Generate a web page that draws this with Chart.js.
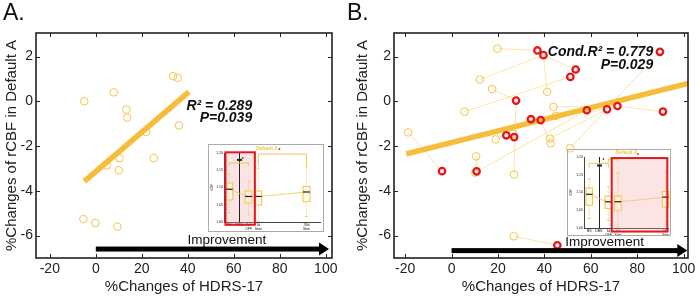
<!DOCTYPE html>
<html>
<head>
<meta charset="utf-8">
<script src="https://cdn.jsdelivr.net/npm/chart.js@4.4.1/dist/chart.umd.min.js"></script>
<style>
body { margin: 0; background: #fff; }
#wrap { position: relative; width: 700px; height: 297px; font-family: "Liberation Sans", Arial, sans-serif; }
.panel { position: absolute; top: 0; }
.tag { position: absolute; top: -1px; font-size: 23px; color: #111; }
.inset { position: absolute; }
</style>
</head>
<body>
<div id="wrap">
  <canvas id="chartA" class="panel" width="350" height="297" style="left:0"></canvas>
  <canvas id="chartB" class="panel" width="350" height="297" style="left:350px"></canvas>
  <div class="tag" style="left:3px">A.</div>
  <div class="tag" style="left:347px">B.</div>
  <canvas id="insetA" class="inset" width="116" height="88" style="left:208px;top:144px"></canvas>
  <canvas id="insetB" class="inset" width="104" height="87" style="left:567px;top:149px"></canvas>
</div>
<script>
// axis ticks
var xTickVals = [-20, 0, 20, 40, 60, 80, 100];
var yTickVals = [-6, -4, -2, 0, 2];

// panel A: single time point
var aX = [-5, 7.8, 33.6, 35.6, 13.3, 13.6, 36.2, 21.9, 10.3, 25.2, 4.8, 10, -5.4, -0.2, 9.4];
var aY = [0.0, 0.4, 1.12, 1.05, -0.37, -0.73, -1.08, -1.37, -2.54, -2.54, -2.87, -3.08, -5.26, -5.44, -5.6];
var aFitX = [-5, 40.5];
var aFitY = [-3.58, 0.42];

// panel B: red = highlighted time points, yellow = other time points
var bRedX = [37, 39.6, 89.8, 53.5, 51.2, 27.8, 34.2, 38.4, 58.3, 67, 71.5, 91.1, 23.6, 27, -4.1, 10.8, 45.6];
var bRedY = [2.27, 2.06, 2.21, 1.42, 1.09, 0.03, -0.8, -0.84, -0.4, -0.36, -0.21, -0.46, -1.52, -1.6, -3.12, -3.13, -6.43];
var bYelX = [19.8, 12.2, 17.5, 41.2, 5.6, 43.9, 45, -18.7, 19, 42.4, 42.7, 51.1, 10.6, 10.2, 26.9, 26.8, 26.5];
var bYelY = [2.35, 0.97, 0.55, 0.42, -0.46, -0.25, -0.65, -1.39, -1.7, -1.66, -1.88, -2.1, -2.46, -3.19, -3.27, -6.03, -1.45];
// subject links: [yellow index, red index] and [red, red]
var linksYR = [[0,0],[1,1],[3,1],[2,5],[14,5],[4,4],[7,14],[12,15],[13,8],[15,16],[5,10],[6,9],[9,9],[10,7],[11,2],[8,12],[16,13]];
var linksRR = [[1,3],[10,11]];
var bFitX = [-19.5, 102];
var bFitY = [-2.35, 0.8];

// inset box plot (Default A rCBF)
var insetCatX = [0, 1, 2, 3, 8];
var insetCats = ['BS', 'DBS', ['1d', 'OFF'], ['1d', 'Stim'], ['28d', 'Stim']];
var insetYTicks = [1.00, 1.05, 1.10, 1.15, 1.20];
var boxX = [0, 2, 3, 8];
var boxLo = [1.027, 1.021, 1.002, 1.016];
var boxQ1 = [1.064, 1.055, 1.049, 1.059];
var boxMed = [1.095, 1.074, 1.074, 1.087];
var boxQ3 = [1.113, 1.090, 1.090, 1.103];
var boxHi = [1.139, 1.117, 1.156, 1.160];

var YEL = '#F4C44B';
var FIT = '#F6BD3A';
var RED = '#E5161D';

Chart.defaults.font.family = '"Liberation Sans", Arial, sans-serif';
Chart.defaults.color = '#222';

function pts(xs, ys) {
    return xs.map(function (v, i) { return { x: v, y: ys[i] }; });
}

// MATLAB-like box with inward ticks, arrow and stats text
var panelDeco = {
    id: 'panelDeco',
    afterDatasetsDraw: function (chart, args, o) {
        var ctx = chart.ctx, x = chart.scales.x, y = chart.scales.y;
        ctx.save();
        // arrow
        var ay = y.getPixelForValue(o.arrowY);
        var ax0 = x.getPixelForValue(o.arrowFrom), ax1 = x.getPixelForValue(o.arrowTo);
        ctx.fillStyle = '#000';
        ctx.fillRect(ax0, ay - 2.5, ax1 - ax0 - 8, 5);
        ctx.beginPath();
        ctx.moveTo(ax1, ay);
        ctx.lineTo(ax1 - 10, ay - 6.5);
        ctx.lineTo(ax1 - 10, ay + 6.5);
        ctx.closePath();
        ctx.fill();
        ctx.font = '13.5px "Liberation Sans", Arial, sans-serif';
        ctx.textAlign = 'center';
        ctx.textBaseline = 'middle';
        ctx.fillStyle = '#111';
        ctx.fillText('Improvement', x.getPixelForValue(o.labelX), y.getPixelForValue(o.labelY));
        // stats
        ctx.font = 'italic bold 14px "Liberation Sans", Arial, sans-serif';
        ctx.textAlign = 'right';
        o.stats.forEach(function (s) {
            ctx.fillText(s.text, x.getPixelForValue(s.x), y.getPixelForValue(s.y));
        });
        ctx.restore();
    },
    afterDraw: function (chart) {
        var ctx = chart.ctx, a = chart.chartArea, x = chart.scales.x, y = chart.scales.y;
        ctx.save();
        ctx.strokeStyle = '#222';
        ctx.lineWidth = 1;
        ctx.beginPath();
        xTickVals.forEach(function (v) {
            var px = Math.round(x.getPixelForValue(v)) + 0.5;
            ctx.moveTo(px, a.bottom); ctx.lineTo(px, a.bottom - 4);
            ctx.moveTo(px, a.top); ctx.lineTo(px, a.top + 4);
        });
        yTickVals.forEach(function (v) {
            var py = Math.round(y.getPixelForValue(v)) + 0.5;
            ctx.moveTo(a.left, py); ctx.lineTo(a.left + 4, py);
            ctx.moveTo(a.right, py); ctx.lineTo(a.right - 4, py);
        });
        ctx.stroke();
        ctx.lineWidth = 1.6;
        ctx.strokeRect(a.left, a.top, a.right - a.left, a.bottom - a.top);
        ctx.restore();
    }
};

function makePanel(id, datasets, xmin, xmax, yWidth, titlePad, padRight, deco) {
    return new Chart(document.getElementById(id), {
        type: 'scatter',
        data: { datasets: datasets },
        plugins: [panelDeco],
        options: {
            responsive: false,
            animation: false,
            events: [],
            layout: { padding: { left: 0, top: 33, right: padRight, bottom: 0 } },
            plugins: { legend: { display: false }, tooltip: { enabled: false }, panelDeco: deco },
            scales: {
                x: {
                    type: 'linear', min: xmin, max: xmax,
                    afterBuildTicks: function (s) { s.ticks = xTickVals.map(function (v) { return { value: v }; }); },
                    afterFit: function (s) { s.height = 39; },
                    grid: { display: false, drawTicks: false },
                    border: { display: false },
                    ticks: { font: { size: 14 }, padding: 3, maxRotation: 0, autoSkip: false },
                    title: { display: true, text: '%Changes of HDRS-17', font: { size: 15 }, padding: { top: 0, bottom: 1 } }
                },
                y: {
                    type: 'linear', min: -7, max: 3.05,
                    afterBuildTicks: function (s) { s.ticks = yTickVals.map(function (v) { return { value: v }; }); },
                    afterFit: function (s) { s.width = yWidth; },
                    grid: { display: false, drawTicks: false },
                    border: { display: false },
                    ticks: { font: { size: 14 }, padding: 3 },
                    title: { display: true, text: '%Changes of rCBF in Default A', font: { size: 15 }, padding: { top: titlePad, bottom: 0 } }
                }
            }
        }
    });
}

// panel A
makePanel('chartA', [
    { data: pts(aX, aY), borderColor: YEL, backgroundColor: 'rgba(0,0,0,0)', pointRadius: 3.8, pointBorderWidth: 1, order: 2 },
    { data: pts(aFitX, aFitY), showLine: true, borderColor: FIT, borderWidth: 5.5, pointRadius: 0, order: 1 }
], -26, 102.7, 36, 3, 18, {
    arrowY: -6.6, arrowFrom: 0, arrowTo: 101.4, labelX: 57, labelY: -6.2,
    stats: [{ text: 'R\u00B2 = 0.289', x: 68, y: -0.2 }, { text: 'P=0.039', x: 68, y: -0.74 }]
});

// panel B
var bSets = [];
linksYR.forEach(function (l) {
    bSets.push({ data: [{ x: bYelX[l[0]], y: bYelY[l[0]] }, { x: bRedX[l[1]], y: bRedY[l[1]] }], showLine: true, borderColor: '#FCE4A6', borderWidth: 1, pointRadius: 0, order: 5 });
});
linksRR.forEach(function (l) {
    bSets.push({ data: [{ x: bRedX[l[0]], y: bRedY[l[0]] }, { x: bRedX[l[1]], y: bRedY[l[1]] }], showLine: true, borderColor: '#FCE4A6', borderWidth: 1, pointRadius: 0, order: 5 });
});
bSets.push({ data: pts(bYelX, bYelY), borderColor: YEL, backgroundColor: 'rgba(0,0,0,0)', pointRadius: 3.8, pointBorderWidth: 1, order: 3 });
bSets.push({ data: pts(bFitX, bFitY), showLine: true, borderColor: FIT, borderWidth: 5.5, pointRadius: 0, order: 2 });
bSets.push({ data: pts(bRedX, bRedY), borderColor: RED, backgroundColor: 'rgba(0,0,0,0)', pointRadius: 3.2, pointBorderWidth: 2.3, order: 0 });

makePanel('chartB', bSets, -24.8, 101.9, 44, 3.5, 12, {
    arrowY: -6.67, arrowFrom: 0, arrowTo: 101.6, labelX: 66, labelY: -6.31,
    stats: [{ text: 'Cond.R\u00B2 = 0.779', x: 86.9, y: 2.18 }, { text: 'P=0.029', x: 86.9, y: 1.6 }]
});

// inset box plots
var insetDeco = {
    id: 'insetDeco',
    beforeDatasetsDraw: function (chart, args, o) {
        var ctx = chart.ctx, x = chart.scales.x, y = chart.scales.y;
        var x0 = x.getPixelForValue(o.hl[0]), x1 = x.getPixelForValue(o.hl[1]);
        var y0 = y.getPixelForValue(o.hl[3]), y1 = y.getPixelForValue(o.hl[2]);
        ctx.save();
        ctx.fillStyle = 'rgba(238,170,165,0.3)';
        ctx.fillRect(x0, y0, x1 - x0, y1 - y0);
        // DBS line
        var dx = Math.round(x.getPixelForValue(1)) + 0.5;
        ctx.strokeStyle = '#222';
        ctx.lineWidth = 1;
        ctx.beginPath();
        ctx.moveTo(dx, y.getPixelForValue(1.2));
        ctx.lineTo(dx, y.getPixelForValue(1.0));
        ctx.stroke();
        ctx.fillStyle = '#222';
        ctx.fillRect(dx - 2.5, y.getPixelForValue(o.dbsMark) - 1, 5, 2);
        ctx.restore();
    },
    afterDatasetsDraw: function (chart, args, o) {
        var ctx = chart.ctx, x = chart.scales.x, y = chart.scales.y;
        ctx.save();
        boxX.forEach(function (bx, i) {
            var px = x.getPixelForValue(bx), hw = o.halfW;
            ctx.strokeStyle = YEL;
            ctx.lineWidth = 0.8;
            ctx.setLineDash([1.2, 1.2]);
            ctx.beginPath();
            ctx.moveTo(px, y.getPixelForValue(boxLo[i])); ctx.lineTo(px, y.getPixelForValue(boxQ1[i]));
            ctx.moveTo(px, y.getPixelForValue(boxQ3[i])); ctx.lineTo(px, y.getPixelForValue(boxHi[i]));
            ctx.stroke();
            ctx.setLineDash([]);
            ctx.beginPath();
            ctx.moveTo(px - 1.5, y.getPixelForValue(boxLo[i])); ctx.lineTo(px + 1.5, y.getPixelForValue(boxLo[i]));
            ctx.moveTo(px - 1.5, y.getPixelForValue(boxHi[i])); ctx.lineTo(px + 1.5, y.getPixelForValue(boxHi[i]));
            ctx.stroke();
            var t = y.getPixelForValue(boxQ3[i]), b = y.getPixelForValue(boxQ1[i]);
            ctx.fillStyle = 'rgba(255,244,215,0.6)';
            ctx.fillRect(px - hw, t, 2 * hw, b - t);
            ctx.lineWidth = 1;
            ctx.strokeRect(px - hw, t, 2 * hw, b - t);
            ctx.strokeStyle = '#222';
            ctx.lineWidth = 1.2;
            ctx.beginPath();
            var m = y.getPixelForValue(boxMed[i]);
            ctx.moveTo(px - hw, m); ctx.lineTo(px + hw, m);
            ctx.stroke();
        });
        // significance brackets
        ctx.strokeStyle = YEL;
        ctx.lineWidth = 1;
        o.brackets.forEach(function (br) {
            var l = x.getPixelForValue(br[0]), r = x.getPixelForValue(br[1]);
            var t = y.getPixelForValue(br[2]), d = y.getPixelForValue(br[2] - br[3]);
            ctx.beginPath();
            ctx.moveTo(l, d); ctx.lineTo(l, t); ctx.lineTo(r, t); ctx.lineTo(r, d);
            ctx.stroke();
        });
        ctx.fillStyle = '#222';
        ctx.font = 'bold 5px "Liberation Sans", Arial, sans-serif';
        ctx.textAlign = 'center';
        ctx.textBaseline = 'middle';
        o.stars.forEach(function (s) {
            ctx.fillText('*', x.getPixelForValue(s[0]), y.getPixelForValue(s[1]));
        });
        // highlight frame
        var x0 = x.getPixelForValue(o.hl[0]), x1 = x.getPixelForValue(o.hl[1]);
        var y0 = y.getPixelForValue(o.hl[3]), y1 = y.getPixelForValue(o.hl[2]);
        ctx.strokeStyle = RED;
        ctx.lineWidth = 2;
        ctx.strokeRect(x0, y0, x1 - x0, y1 - y0);
        // title
        ctx.fillStyle = YEL;
        ctx.font = 'bold 5px "Liberation Sans", Arial, sans-serif';
        ctx.fillText('Default A', x.getPixelForValue(o.titleX), chart.chartArea.top - 4);
        ctx.restore();
    },
    afterDraw: function (chart) {
        var ctx = chart.ctx;
        ctx.save();
        ctx.strokeStyle = '#aaa';
        ctx.lineWidth = 1;
        ctx.strokeRect(0.5, 0.5, chart.width - 1, chart.height - 1);
        ctx.restore();
    }
};

function makeInset(id, xmax, yWidth, pad, xHeight, deco) {
    return new Chart(document.getElementById(id), {
        type: 'line',
        data: {
            datasets: [{ data: pts(boxX, boxMed), borderColor: YEL, borderWidth: 0.8, pointRadius: 0, tension: 0.4 }]
        },
        plugins: [insetDeco],
        options: {
            responsive: false,
            animation: false,
            events: [],
            layout: { padding: pad },
            plugins: { legend: { display: false }, tooltip: { enabled: false }, insetDeco: deco },
            scales: {
                x: {
                    type: 'linear', min: -0.55, max: xmax,
                    afterBuildTicks: function (s) { s.ticks = insetCatX.map(function (v) { return { value: v }; }); },
                    afterFit: function (s) { s.height = xHeight; },
                    grid: { display: false, drawTicks: false },
                    border: { display: true, color: '#444', width: 1 },
                    ticks: { font: { size: 3.5 }, padding: 1, maxRotation: 0, autoSkip: false,
                        callback: function (v) { return insetCats[insetCatX.indexOf(v)]; } }
                },
                y: {
                    type: 'linear', min: 1.0, max: 1.2,
                    afterBuildTicks: function (s) { s.ticks = insetYTicks.map(function (v) { return { value: v }; }); },
                    afterFit: function (s) { s.width = yWidth; },
                    grid: { display: false, drawTicks: false },
                    border: { display: true, color: '#444', width: 1 },
                    ticks: { font: { size: 3.5 }, padding: 1, callback: function (v) { return v.toFixed(2); } },
                    title: { display: true, text: 'rCBF', font: { size: 3 }, padding: { top: 2, bottom: 0 } }
                }
            }
        }
    });
}

makeInset('insetA', 9.4, 16, { left: 0, top: 9, right: 4, bottom: 0 }, 10, {
    hl: [-0.4, 2.65, 0.992, 1.202], halfW: 3.5, dbsMark: 1.18, titleX: 3.9,
    brackets: [[0, 2, 1.171, 0.008], [3, 8, 1.197, 0.035]],
    stars: [[1.4, 1.18], [5.2, 1.206]]
});

makeInset('insetB', 8.25, 17, { left: 0, top: 8, right: 3, bottom: 0 }, 8, {
    hl: [2.35, 8.18, 0.99, 1.197], halfW: 3.3, dbsMark: 1.176, titleX: 3.9,
    brackets: [[0, 2, 1.182, 0.012], [2, 3, 1.194, 0.008]],
    stars: [[1.5, 1.19], [5.1, 1.203]]
});
</script>
</body>
</html>
